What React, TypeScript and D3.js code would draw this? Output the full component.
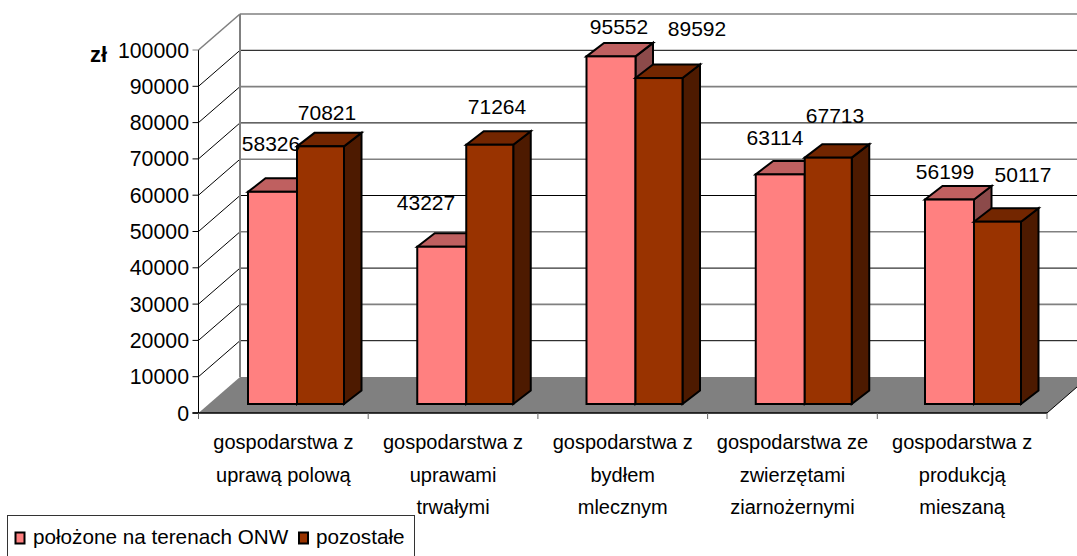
import React from "react";
import * as d3 from "d3";

const categories: string[][] = [
  ["gospodarstwa z", "uprawą polową"],
  ["gospodarstwa z", "uprawami", "trwałymi"],
  ["gospodarstwa z", "bydłem", "mlecznym"],
  ["gospodarstwa ze", "zwierzętami", "ziarnożernymi"],
  ["gospodarstwa z", "produkcją", "mieszaną"],
];
const seriesOnw = [58326, 43227, 95552, 63114, 56199];
const seriesOther = [70821, 71264, 89592, 67713, 50117];
const ticks = [0, 10000, 20000, 30000, 40000, 50000, 60000, 70000, 80000, 90000, 100000];
const seriesNames = ["położone na terenach ONW", "pozostałe"];

const FONT = "'Liberation Sans', Arial, sans-serif";
const FS = 21;
const pal = [
  { front: "#FF8080", top: "#BF6060", side: "#8C4A4A" },
  { front: "#993300", top: "#732600", side: "#4D1A00" },
];
const labelPos = [
  [[271, 144], [327, 113]],
  [[426, 203], [497, 107]],
  [[619, 27], [697, 29]],
  [[775, 138], [835, 116]],
  [[945, 172], [1023, 175]],
];

const y = d3.scaleLinear().domain([0, 100000]).range([413, 50]);
const yBar = d3.scaleLinear().domain([0, 100000]).range([404, 40.2]);
const x = d3.scaleBand<number>().domain(d3.range(5)).range([198.5, 1047]);
const xBar = d3.scaleBand<number>().domain(d3.range(5)).range([248, 248 + 5 * 169.25]);
const wallDx = 41.5, wallDy = -36;
const barDx = 17.5, barDy = -13.5;

function Bar({ x0, w, v, c }: { x0: number; w: number; v: number; c: typeof pal[0] }) {
  const b = yBar(0);
  const t = yBar(v);
  const sw = 2;
  const pts = (a: number[][]) => a.map((p) => p.join(",")).join(" ");
  return (
    <g stroke="#000" strokeWidth={sw} strokeLinejoin="miter">
      <polygon fill={c.side} points={pts([[x0 + w, t], [x0 + w + barDx, t + barDy], [x0 + w + barDx, b + barDy], [x0 + w, b]])} />
      <polygon fill={c.top} points={pts([[x0, t], [x0 + barDx, t + barDy], [x0 + w + barDx, t + barDy], [x0 + w, t]])} />
      <rect x={x0} y={t} width={w} height={b - t} fill={c.front} />
    </g>
  );
}

export default function App() {
  const bw = x.bandwidth();
  const xL = x(0)!;
  const xR = xL + bw * 5;
  return (
    <svg width={1077} height={556} style={{ position: "absolute", left: 0, top: 0, display: "block", background: "#fff" }} fontFamily={FONT}>
      <polygon fill="#808080" points={`${xL},${y(0)} ${xL + wallDx},${y(0) + wallDy} ${xR + wallDx},${y(0) + wallDy} ${xR},${y(0)}`} />
      {ticks.slice(1).map((t, i) => {
        const gray = i % 2 === 1;
        const last = t === 100000;
        const yy = y(t);
        return (
          <g key={t}>
            <line x1={xL} y1={yy} x2={xL + wallDx} y2={yy + wallDy} stroke={last ? "#808080" : "#000"} strokeWidth={last ? 1.6 : 1} />
            <line x1={xL + wallDx} y1={yy + wallDy} x2={1077} y2={yy + wallDy} stroke={gray ? "#808080" : "#000"} strokeWidth={gray ? 1.6 : 1} />
          </g>
        );
      })}
      <line x1={xL + wallDx} y1={y(100000) + wallDy} x2={xL + wallDx} y2={y(0) + wallDy} stroke="#808080" strokeWidth={2} />
      <line x1={xL} y1={y(100000)} x2={xL} y2={y(0) + 6} stroke="#000" strokeWidth={1} />
      <line x1={xL - 6} y1={y(0)} x2={xR} y2={y(0)} stroke="#000" strokeWidth={1.5} />
      <line x1={xR} y1={y(0)} x2={xR + wallDx} y2={y(0) + wallDy} stroke="#000" strokeWidth={1} />
      {ticks.map((t) => (
        <g key={t}>
          <line x1={xL - 6} y1={y(t)} x2={xL} y2={y(t)} stroke={t === 100000 ? "#808080" : "#000"} />
          <text x={xL - 9.5} y={y(t) + 7.5} textAnchor="end" fontSize={21.3} fill="#000">{t}</text>
        </g>
      ))}
      {d3.range(6).map((i) => (
        <line key={i} x1={xL + bw * i} y1={y(0)} x2={xL + bw * i} y2={y(0) + 6} stroke="#666" />
      ))}
      {categories.map((_, i) => {
        const x0 = xBar(i)!;
        return (
          <g key={i}>
            <Bar x0={x0} w={49} v={seriesOnw[i]} c={pal[0]} />
            <Bar x0={x0 + 49} w={47} v={seriesOther[i]} c={pal[1]} />
          </g>
        );
      })}
      {categories.map((_, i) =>
        [seriesOnw[i], seriesOther[i]].map((v, s) => (
          <text key={s} x={labelPos[i][s][0]} y={labelPos[i][s][1] + 7} textAnchor="middle" fontSize={FS}>{v}</text>
        ))
      )}
      <text x={98.5} y={62} textAnchor="middle" fontSize={22} fontWeight="bold">zł</text>
      {categories.map((lines, i) =>
        lines.map((l, j) => (
          <text key={j} x={x(i)! + bw / 2} y={449 + j * 32.5} textAnchor="middle" fontSize={20}>{l}</text>
        ))
      )}
      <rect x={7.5} y={515.5} width={407} height={50} fill="#fff" stroke="#333" />
      <rect x={15.5} y={532.5} width={9} height={11} fill={pal[0].front} stroke="#000" strokeWidth={2} />
      <text x={33} y={544} fontSize={20.7}>{seriesNames[0]}</text>
      <rect x={299} y={532.5} width={9} height={11} fill={pal[1].front} stroke="#000" strokeWidth={2} />
      <text x={316} y={544} fontSize={20.7}>{seriesNames[1]}</text>
    </svg>
  );
}
